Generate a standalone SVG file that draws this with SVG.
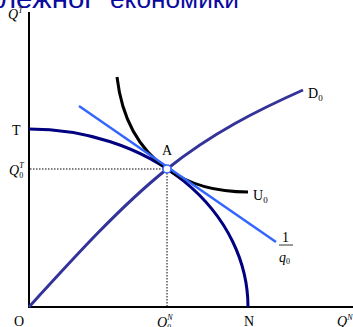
<svg xmlns="http://www.w3.org/2000/svg" width="353" height="327" viewBox="0 0 353 327">
<style>
.t{font-family:"Liberation Serif","Times New Roman",serif;font-size:14px;fill:#000}
.i{font-style:italic}
.title{font-family:"Liberation Sans",Arial,sans-serif;font-size:26px;fill:#0a0aa0}
.ax{stroke:#000;stroke-width:2;fill:none}
.dot{stroke:#000;stroke-width:1;stroke-dasharray:1.5 1.5;fill:none}
</style>
<rect width="353" height="327" fill="#fff"/>
<text class="title" x="-1" y="7.5" textLength="96" lengthAdjust="spacingAndGlyphs">лежног</text>
<text class="title" x="110" y="7.5" textLength="129" lengthAdjust="spacingAndGlyphs">економики</text>
<g id="axes">
<line class="ax" x1="29" y1="12" x2="29" y2="308"/>
<line class="ax" x1="28" y1="307" x2="353" y2="307"/>
</g>
<g id="guides">
<line class="dot" x1="30" y1="169" x2="166" y2="169"/>
<line class="dot" x1="167" y1="170" x2="167" y2="306"/>
</g>
<g id="connectors">
<path id="ppf" d="M29,129 A219,178 0 0 1 248,307" fill="none" stroke="#000080" stroke-width="3"/>
<path id="d0" d="M29,307 C75,256.4 121,205.8 167,169 C212,133 258,110 303,90" fill="none" stroke="#333399" stroke-width="3"/>
<path id="u0" d="M117,77 C122,120 140,150 167,169 C190,185 215,192 248,192" fill="none" stroke="#000" stroke-width="3"/>
<line id="price" x1="79" y1="106" x2="276" y2="242" stroke="#3366ff" stroke-width="2.5"/>
</g>
<g id="A">
<circle cx="167" cy="169" r="4" fill="#fff" stroke="#3366ff" stroke-width="1.5"/>
<text class="t" x="162" y="155">A</text>
</g>
<g id="labels">
<text class="t i" x="8" y="19">Q<tspan font-size="8" dy="-6">T</tspan></text>
<text class="t" x="12" y="135">T</text>
<text class="t i" x="9" y="175">Q<tspan font-size="8" font-style="normal" dy="3">0</tspan><tspan font-size="8" dx="-4" dy="-10">T</tspan></text>
<text class="t" x="14" y="326">O</text>
<text class="t" x="244" y="326">N</text>
<text class="t i" x="157" y="327">Q<tspan font-size="8" font-style="normal" dy="3">0</tspan><tspan font-size="8" dx="-4" dy="-10">N</tspan></text>
<text class="t i" x="337" y="326">Q<tspan font-size="8" dy="-6">N</tspan></text>
<text class="t" x="308" y="98">D<tspan font-size="9" dy="3">0</tspan></text>
<text class="t" x="253" y="200">U<tspan font-size="9" dy="3">0</tspan></text>
<text class="t" x="282" y="242" font-size="13">1</text>
<line x1="279" y1="245" x2="293" y2="245" stroke="#000" stroke-width="0.8"/>
<text class="t i" x="279" y="262" font-size="13">q<tspan font-size="8" font-style="normal" dy="2">0</tspan></text>
</g>
</svg>
